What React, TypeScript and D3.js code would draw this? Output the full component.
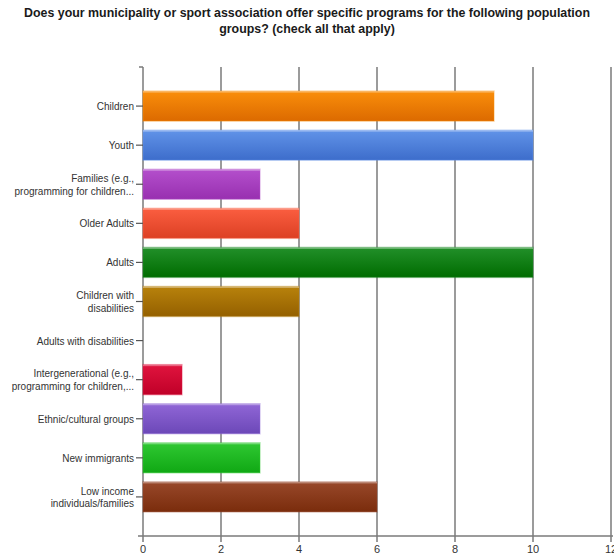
import React from "react";
import * as d3 from "d3";

const categories: string[][] = [
  ["Children"],
  ["Youth"],
  ["Families (e.g.,", "programming for children..."],
  ["Older Adults"],
  ["Adults"],
  ["Children with", "disabilities"],
  ["Adults with disabilities"],
  ["Intergenerational (e.g.,", "programming for children,..."],
  ["Ethnic/cultural groups"],
  ["New immigrants"],
  ["Low income", "individuals/families"],
];
const values: number[] = [9, 10, 3, 4, 10, 4, 0, 1, 3, 3, 6];
const colorsTop: string[] = ["#fa8e0a", "#6193e8", "#b44fcc", "#fb5e40", "#22902a", "#b8820c", "#ffffff", "#e0143e", "#9066d6", "#2fc832", "#98482a"];
const colorsBottom: string[] = ["#dc6a00", "#3d6dcb", "#9830b0", "#dc4024", "#006c00", "#946000", "#ffffff", "#c00028", "#6c48b8", "#10a814", "#7a2c0c"];
const xTicks: number[] = [0, 2, 4, 6, 8, 10, 12];
const titleLines: string[] = [
  "Does your municipality or sport association offer specific programs for the following population",
  "groups? (check all that apply)",
];

export default function App() {
  const W = 614, H = 558;
  const left = 143, right = 611, top = 67, bottom = 536;
  const x = d3.scaleLinear().domain([0, 12]).range([left, right]);
  const y = d3.scalePoint<number>().domain(d3.range(categories.length)).range([top, bottom]).padding(1);
  const barH = 30;
  const font = "'Liberation Sans', Arial, sans-serif";
  return (
    <svg width={W} height={H} style={{ position: "absolute", left: 0, top: 0, background: "#fff" }}>
      <defs>
        {values.map((_, i) => (
          <linearGradient key={i} id={`g${i}`} x1="0" y1="0" x2="0" y2="1">
            <stop offset="0" stopColor={colorsTop[i]} />
            <stop offset="1" stopColor={colorsBottom[i]} />
          </linearGradient>
        ))}
      </defs>
      {titleLines.map((t, i) => (
        <text key={i} x={307} y={17 + i * 16} textAnchor="middle" fontFamily={font} fontWeight="bold" fontSize={12.4} fill="#1a1a1a">
          {t}
        </text>
      ))}
      {xTicks.map((t) => (
        <g key={t}>
          <line x1={x(t)} x2={x(t)} y1={top} y2={bottom + 6} stroke="#7a7a7a" strokeWidth={1.5} />
          <text x={x(t)} y={553} textAnchor="middle" fontFamily={font} fontSize={11} fill="#333">
            {t}
          </text>
        </g>
      ))}
      <line x1={left - 5} x2={right + 2} y1={bottom} y2={bottom} stroke="#7a7a7a" strokeWidth={1.5} />
      <line x1={left - 4} x2={left} y1={top} y2={top} stroke="#7a7a7a" strokeWidth={1.5} />
      {values.map((v, i) => {
        const cy = y(i)!;
        if (v <= 0) return null;
        return (
          <g key={i}>
            <rect x={x(0)} y={cy - barH / 2} width={x(v) - x(0)} height={barH} fill={`url(#g${i})`} stroke={colorsTop[i]} strokeOpacity={0.35} strokeWidth={1.5} />
            <rect x={x(0)} y={cy - barH / 2} width={x(v) - x(0)} height={1.5} fill="#ffffff" opacity={0.35} />
          </g>
        );
      })}
      {categories.map((lines, i) => {
        const cy = y(i)!;
        return (
          <g key={i}>
            <line x1={left - 7} x2={left} y1={cy} y2={cy} stroke="#555" strokeWidth={1.2} />
            {lines.map((l, j) => (
              <text key={j} x={left - 9} y={cy + 4 + (j - (lines.length - 1) / 2) * 12.5} textAnchor="end" fontFamily={font} fontSize={10} fill="#333">
                {l}
              </text>
            ))}
          </g>
        );
      })}
    </svg>
  );
}
